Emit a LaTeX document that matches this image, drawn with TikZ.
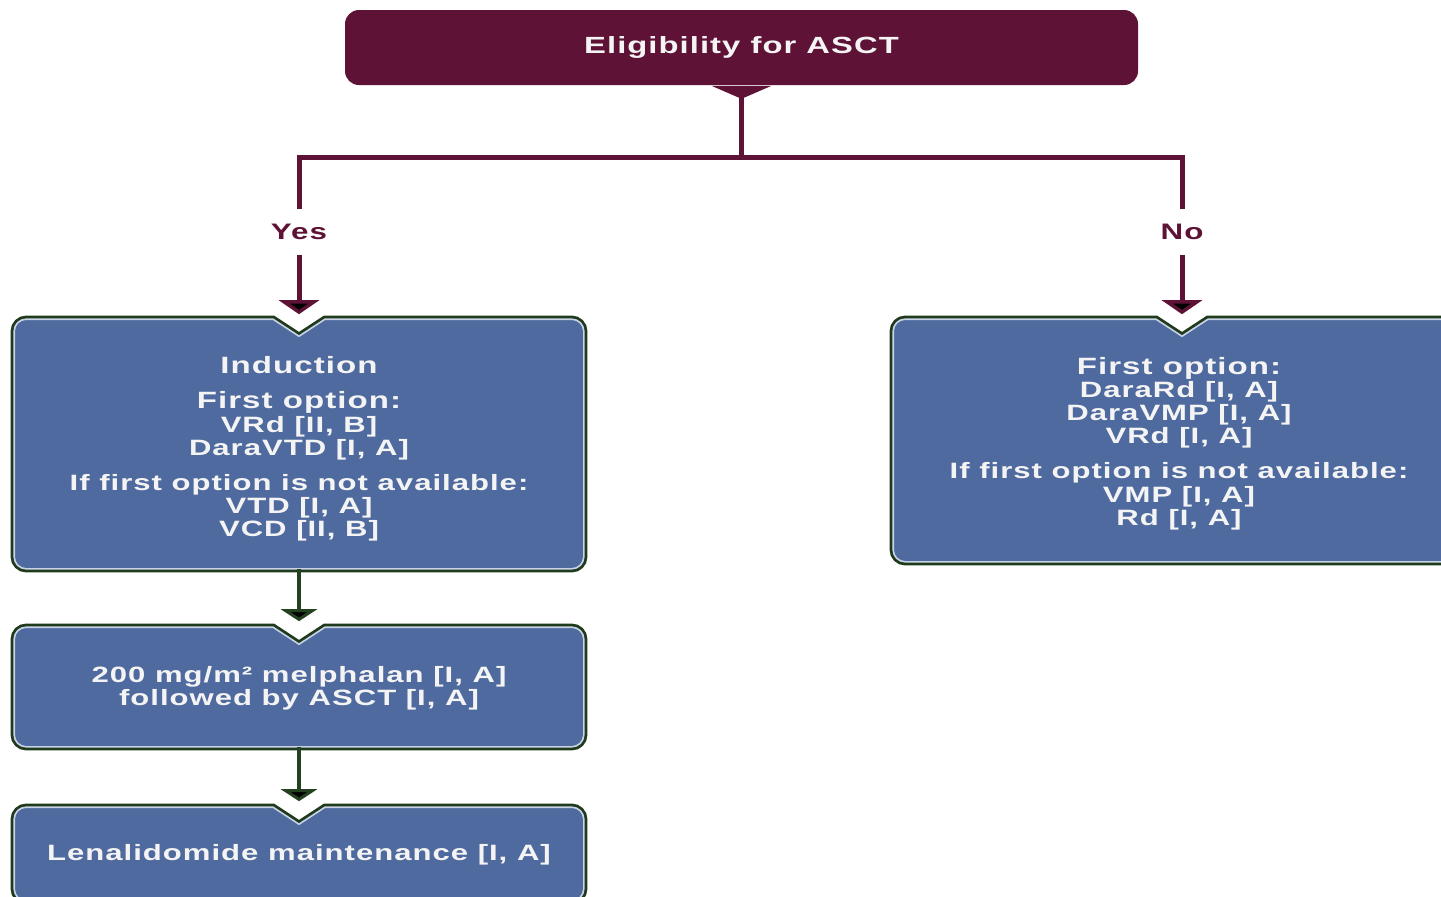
\documentclass[tikz,border=0pt]{standalone}
\usepackage{fontspec}
\setmainfont{Liberation Sans}[FakeStretch=1.4, LetterSpace=4.5]
\usetikzlibrary{arrows.meta,backgrounds}

\definecolor{ascmaroon}{HTML}{5E1236}
\definecolor{ascblue}{HTML}{4F6A9E}
\definecolor{ascgreen}{HTML}{1F3B1C}
\definecolor{asclink}{HTML}{24421F}
\definecolor{ascpale}{HTML}{C9D3E8}
\definecolor{ascwhite}{HTML}{F4F4F4}

% outline of a blue box with the V cut into its top edge
\newcommand{\notchbox}[1]{%
  \path[boxedge] ([xshift=-13pt]#1.north) -- ([yshift=-8.5pt]#1.north) -- ([xshift=13pt]#1.north)
    -- ([xshift=-6pt]#1.north east) arc[start angle=90, end angle=0, radius=6pt]
    -- ([yshift=6pt]#1.south east) arc[start angle=0, end angle=-90, radius=6pt]
    -- ([xshift=6pt]#1.south west) arc[start angle=270, end angle=180, radius=6pt]
    -- ([yshift=-6pt]#1.north west) arc[start angle=180, end angle=90, radius=6pt]
    -- cycle;}

\begin{document}
\begin{tikzpicture}[x=0.5pt, y=-0.5pt, thick,
    titlebox/.style={fill=ascmaroon, rounded corners=7pt, text=ascwhite, font=\bfseries\fontsize{11.7}{14}\selectfont, minimum width=396.5pt, minimum height=37.5pt},
    bluebox/.style={inner sep=0pt},
    boxtext/.style={text=ascwhite, align=center, inner sep=0pt, font=\bfseries\fontsize{11.1}{11.6}\selectfont},
    boxedge/.style={preaction={draw=ascgreen, line width=3.6pt}, fill=ascblue, draw=ascpale, line width=0.8pt},
    answer/.style={text=ascmaroon, font=\bfseries\fontsize{11.2}{13}\selectfont, inner xsep=2pt, inner ysep=7pt},
    maroonline/.style={draw=ascmaroon, line width=2.5pt},
    maroonarrow/.style={maroonline, -{Triangle[width=20pt, length=7pt]}, shorten >=2.5pt},
    greenarrow/.style={draw=asclink, line width=2pt, -{Triangle[width=18pt, length=6pt]}, shorten >=3pt}]

    \useasboundingbox (0,0) rectangle (1441,896);

    \node[titlebox] (title) at (741.5,47.5) {Eligibility for ASCT};
    \fill[ascmaroon] ([xshift=-15pt]title.south) -- ([yshift=-6.5pt]title.south) -- ([xshift=15pt]title.south) -- cycle;

    \coordinate (jn) at (741.5,157);
    \coordinate (jl) at (299,157);
    \coordinate (jr) at (1182,157);

    \node[answer] (yes) at (299,232) {Yes};
    \node[answer] (no) at (1182,232) {No};

    % boxes
    \node[bluebox, minimum width=284pt, minimum height=124pt] (induct) at (299,444) {};
    \node[bluebox, minimum width=288pt, minimum height=120.5pt] (reco) at (1182,440.5) {};
    \node[bluebox, minimum width=284pt, minimum height=59pt] (melph) at (299,687) {};
    \node[bluebox, minimum width=284pt, minimum height=46pt] (maint) at (299,854) {};

    \begin{scope}[on background layer]
        \notchbox{induct}
        \notchbox{reco}
        \notchbox{melph}
        \notchbox{maint}
    \end{scope}

    % texts
    \node[boxtext] (inducttext) at (299,449)
        {{\fontsize{11.8}{11.6}\selectfont Induction}\\[6pt]
         {\fontsize{11.8}{11.6}\selectfont First option:}\\ VRd [II, B]\\ DaraVTD [I, A]\\[6pt]
         If first option is not available:\\ VTD [I, A]\\ VCD [II, B]};
    \node[boxtext] (recotext) at (1179,443.5)
        {{\fontsize{11.8}{11.6}\selectfont First option:}\\ DaraRd [I, A]\\ DaraVMP [I, A]\\ VRd [I, A]\\[6pt]
         If first option is not available:\\ VMP [I, A]\\ Rd [I, A]};
    \node[boxtext] (melphtext) at (299,688)
        {200 mg/m² melphalan [I, A]\\ followed by ASCT [I, A]};
    \node[boxtext] (mainttext) at (299,855)
        {Lenalidomide maintenance [I, A]};

    \draw[maroonline] (title.south) -- (jn);
    \draw[maroonline] (yes.north) -- (jl) -- (jr) -- (no.north);
    \path[maroonarrow] (yes) edge (induct.north);
    \path[maroonarrow] (no) edge (reco.north);
    \path[greenarrow] (induct) edge (melph.north);
    \path[greenarrow] (melph) edge (maint.north);
\end{tikzpicture}
\end{document}
